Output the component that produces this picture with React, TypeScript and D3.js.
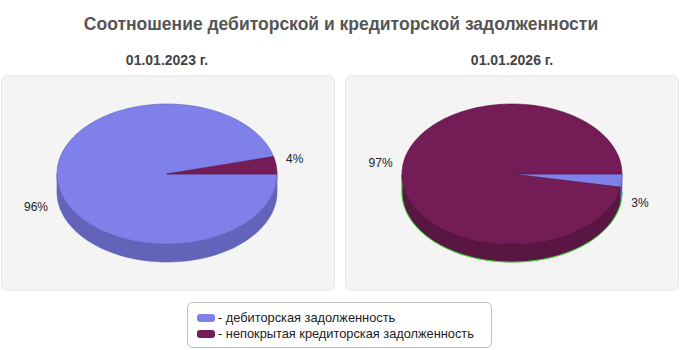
import React from "react";
import * as d3 from "d3";

const title = "Соотношение дебиторской и кредиторской задолженности";
const seriesNames = ["дебиторская задолженность", "непокрытая кредиторская задолженность"];
const chartDates = ["01.01.2023 г.", "01.01.2026 г."];
const values2023 = [96, 4];
const values2026 = [3, 97];
const topColors = ["#7f80ea", "#741c55"];
const sideColors = ["#6364b9", "#5a1642"];
const strokeColors = ["#5b5db8", "#5a1040"];

const W = 680;
const H = 350;

type PieProps = { cx: number; cy: number; values: number[]; label: string; panelX: number; edge?: string };

function Pie3D({ cx, cy, values, label, panelX, edge }: PieProps) {
  const rx = 110, ry = 70, depth = 18;
  const pie = d3.pie<number>().sort(null).value((d) => d).startAngle(Math.PI / 2).endAngle(Math.PI / 2 + 2 * Math.PI);
  const arcs = pie(values);
  const pt = (a: number, dy = 0): [number, number] => [cx + rx * Math.sin(a), cy - ry * Math.cos(a) + dy];
  const line = d3.line();
  const sample = (a0: number, a1: number, dy = 0) => {
    const n = Math.max(2, Math.ceil(((a1 - a0) / (2 * Math.PI)) * 180));
    return d3.range(n + 1).map((i) => pt(a0 + ((a1 - a0) * i) / n, dy));
  };
  const sides: JSX.Element[] = [];
  const tops: JSX.Element[] = [];
  const labels: JSX.Element[] = [];
  const fmt = d3.format(".0f");
  const total = d3.sum(values);
  let edgePath: string | null = null;
  arcs.forEach((a, i) => {
    const s = Math.max(a.startAngle, Math.PI / 2);
    const e = Math.min(a.endAngle, (3 * Math.PI) / 2);
    if (s < e) {
      const pts = [...sample(s, e), ...sample(s, e, depth).reverse()];
      sides.push(<path key={"s" + i} d={line(pts) + "Z"} fill={sideColors[i]} stroke={strokeColors[i]} strokeWidth={0.6} />);
    }
    const tp = [[cx, cy] as [number, number], ...sample(a.startAngle, a.endAngle)];
    tops.push(<path key={"t" + i} d={line(tp) + "Z"} fill={topColors[i]} stroke={strokeColors[i]} strokeWidth={0.6} />);
    const mid = (a.startAngle + a.endAngle) / 2;
    const sx = Math.sin(mid), cyv = -Math.cos(mid);
    const lx = cx + sx * rx * 1.09;
    const ly = cy + cyv * ry * 1.7 + (cyv > 0 ? depth : 0);
    labels.push(
      <text key={"l" + i} x={lx} y={ly} dy="0.35em" textAnchor={sx >= 0 ? "start" : "end"} fontSize={12} fill="#222">
        {fmt((a.data / total) * 100)}%
      </text>
    );
  });
  if (edge) {
    const pts = [pt(3 * Math.PI / 2, 0), ...sample(Math.PI / 2, (3 * Math.PI) / 2, depth).reverse()];
    edgePath = line(pts);
  }
  return (
    <g>
      <rect x={panelX} y={76} width={333} height={214} rx={6} fill="#f4f4f4" stroke="#e2e2e2" strokeWidth={1} />
      <text x={cx} y={60} dy="0.35em" textAnchor="middle" fontSize={14} fontWeight="bold" fill="#444">{label}</text>
      {sides}
      {edgePath && <path d={edgePath} fill="none" stroke={edge} strokeWidth={0.9} />}
      {tops}
      {labels}
    </g>
  );
}

export default function App() {
  return (
    <svg width={W} height={H} style={{ position: "absolute", left: 0, top: 0, fontFamily: "Arial, 'Liberation Sans', sans-serif" }}>
      <rect width={W} height={H} fill="#fff" />
      <text x={341} y={24} dy="0.35em" textAnchor="middle" fontSize={17.5} fontWeight="bold" fill="#555">{title}</text>
      <Pie3D cx={167} cy={174} values={values2023} label={chartDates[0]} panelX={1.5} />
      <Pie3D cx={512} cy={174} values={values2026} label={chartDates[1]} panelX={345.5} edge="#22ee22" />
      <g>
        <rect x={187.5} y={302.5} width={304} height={45} rx={5} fill="#fff" stroke="#bbb" />
        {seriesNames.map((n, i) => (
          <g key={n}>
            <rect x={197} y={314 + i * 16} width={18} height={8} rx={3} fill={topColors[i]} />
            <text x={218} y={318 + i * 16} dy="0.35em" fontSize={12.8} fill="#222">- {n}</text>
          </g>
        ))}
      </g>
    </svg>
  );
}
